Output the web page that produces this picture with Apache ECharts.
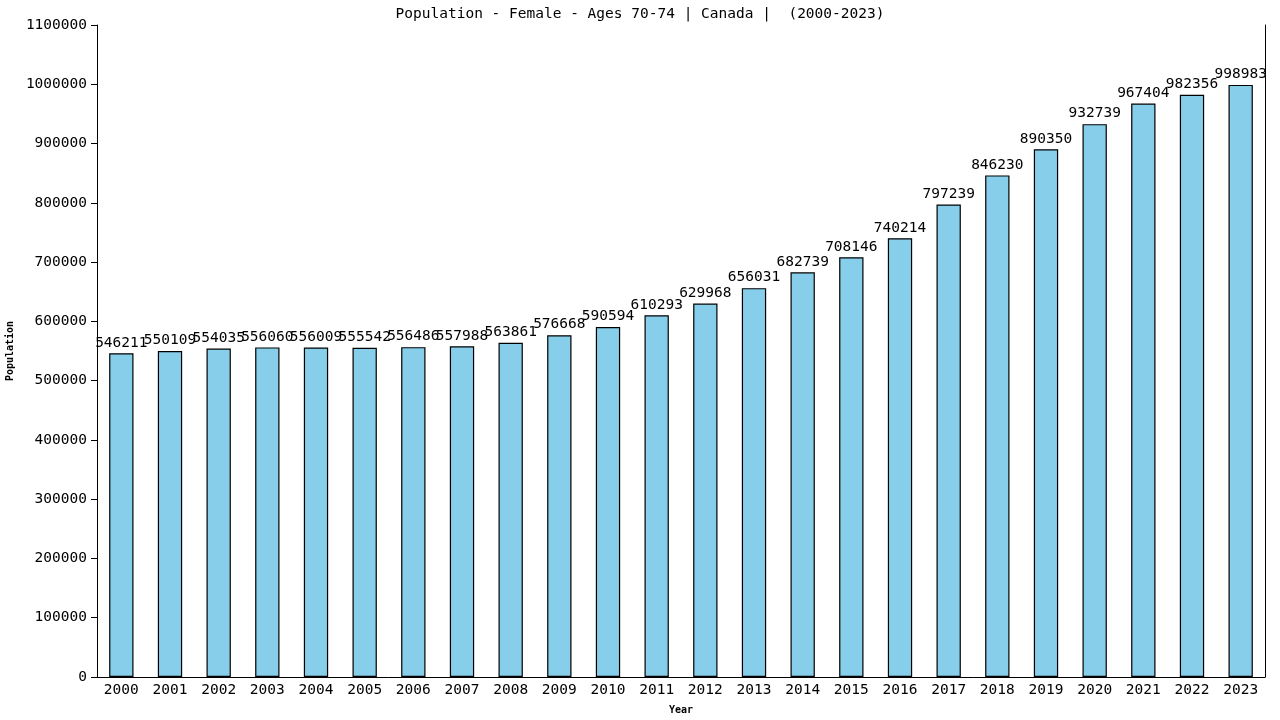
<html>
<head>
<meta charset="UTF-8">
<title>Population - Female - Ages 70-74 | Canada</title>
<script src="https://cdn.jsdelivr.net/npm/echarts@6/dist/echarts.min.js"></script>
<style>
    body { margin: 0; background: #fff; }
    #main { width: 1280px; height: 720px; }
</style>
</head>
<body>
<div id="main"></div>
<script>
var years = ['2000','2001','2002','2003','2004','2005','2006','2007','2008','2009','2010','2011',
             '2012','2013','2014','2015','2016','2017','2018','2019','2020','2021','2022','2023'];
var population = [546211, 550109, 554035, 556060, 556009, 555542, 556486, 557988, 563861, 576668, 590594, 610293,
                  629968, 656031, 682739, 708146, 740214, 797239, 846230, 890350, 932739, 967404, 982356, 998983];
var yTicks = { min: 0, max: 1100000, interval: 100000 };

var font = 'DejaVu Sans Mono';
var myChart = echarts.init(document.getElementById('main'));

var option = {
    animation: false,
    backgroundColor: '#fff',
    title: {
        text: 'Population - Female - Ages 70-74 | Canada |  (2000-2023)',
        left: 'center',
        top: 2,
        textStyle: { fontFamily: font, fontSize: 14.5, fontWeight: 'normal', color: '#000' }
    },
    grid: { left: 97, right: 15, top: 25, bottom: 43, outerBoundsMode: 'none', containLabel: false },
    xAxis: {
        type: 'category',
        data: years,
        name: 'Year',
        nameLocation: 'middle',
        nameGap: 28,
        nameTextStyle: { fontFamily: font, fontSize: 10, fontWeight: 'bold', color: '#000' },
        axisLine: { lineStyle: { color: '#000', width: 1 } },
        axisTick: { show: false },
        axisLabel: { fontFamily: font, fontSize: 14.5, color: '#000', margin: 6 }
    },
    yAxis: [{
        type: 'value',
        min: yTicks.min,
        max: yTicks.max,
        interval: yTicks.interval,
        name: 'Population',
        nameLocation: 'middle',
        nameGap: 74,
        nameTextStyle: { fontFamily: font, fontSize: 10, fontWeight: 'bold', color: '#000' },
        axisLine: { show: true, lineStyle: { color: '#000', width: 1 } },
        axisTick: { show: true, length: 6, lineStyle: { color: '#000' } },
        axisLabel: {
            fontFamily: font, fontSize: 14.5, color: '#000', margin: 10,
            formatter: function (v) { return String(v); }
        },
        splitLine: { show: false }
    }, {
        type: 'value',
        position: 'right',
        min: yTicks.min,
        max: yTicks.max,
        interval: yTicks.interval,
        axisLine: { show: true, lineStyle: { color: '#000', width: 1 } },
        axisTick: { show: false },
        axisLabel: { show: false },
        splitLine: { show: false }
    }],
    series: [{
        type: 'bar',
        data: population,
        barWidth: '50%',
        itemStyle: { color: '#87ceeb', borderColor: '#000', borderWidth: 1.2 },
        label: {
            show: true,
            position: 'top',
            distance: 3,
            fontFamily: font,
            fontSize: 14.5,
            color: '#000'
        }
    }]
};

myChart.setOption(option);
</script>
</body>
</html>
